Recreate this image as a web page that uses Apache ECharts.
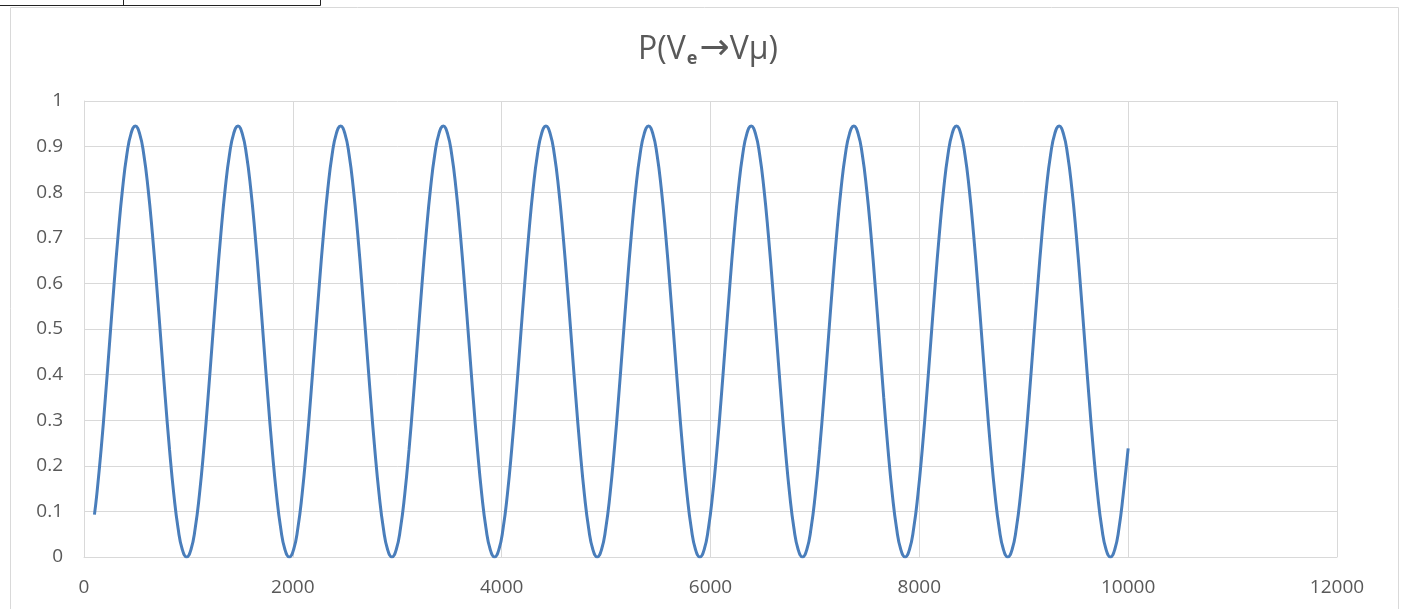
<!DOCTYPE html>
<html>
<head>
<meta charset="utf-8">
<script src="https://cdn.jsdelivr.net/npm/echarts@6/dist/echarts.min.js"></script>
<style>
html,body{margin:0;padding:0;background:#fff;}
#c{width:1403px;height:609px;}
</style>
</head>
<body>
<div id="c"></div>
<script>
// Distance (x) values
var distance = [
  100, 123, 164, 205, 246, 287, 328, 369, 410, 451, 492, 532, 573, 614, 655, 696, 737, 778, 819, 860, 901, 942,
  983, 1024, 1065, 1106, 1147, 1188, 1229, 1270, 1311, 1352, 1393, 1434, 1475, 1515, 1556, 1597, 1638, 1679, 1720, 1761, 1802, 1843, 1884, 1925,
  1966, 2007, 2048, 2089, 2130, 2171, 2212, 2253, 2294, 2335, 2376, 2417, 2458, 2498, 2539, 2580, 2621, 2662, 2703, 2744, 2785, 2826, 2867, 2908,
  2949, 2990, 3031, 3072, 3113, 3154, 3195, 3236, 3277, 3318, 3359, 3400, 3441, 3481, 3522, 3563, 3604, 3645, 3686, 3727, 3768, 3809, 3850, 3891,
  3932, 3973, 4014, 4055, 4096, 4137, 4178, 4219, 4260, 4301, 4342, 4383, 4424, 4464, 4505, 4546, 4587, 4628, 4669, 4710, 4751, 4792, 4833, 4874,
  4915, 4956, 4997, 5038, 5079, 5120, 5161, 5202, 5243, 5284, 5325, 5366, 5407, 5447, 5488, 5529, 5570, 5611, 5652, 5693, 5734, 5775, 5816, 5857,
  5898, 5939, 5980, 6021, 6062, 6103, 6144, 6185, 6226, 6267, 6308, 6349, 6390, 6430, 6471, 6512, 6553, 6594, 6635, 6676, 6717, 6758, 6799, 6840,
  6881, 6922, 6963, 7004, 7045, 7086, 7127, 7168, 7209, 7250, 7291, 7332, 7373, 7413, 7454, 7495, 7536, 7577, 7618, 7659, 7700, 7741, 7782, 7823,
  7864, 7905, 7946, 7987, 8028, 8069, 8110, 8151, 8192, 8233, 8274, 8315, 8356, 8396, 8437, 8478, 8519, 8560, 8601, 8642, 8683, 8724, 8765, 8806,
  8847, 8888, 8929, 8970, 9011, 9052, 9093, 9134, 9175, 9216, 9257, 9298, 9339, 9379, 9420, 9461, 9502, 9543, 9584, 9625, 9666, 9707, 9748, 9789,
  9830, 9871, 9912, 9953, 10000
];
// Probability P(Ve -> Vmu) values
var probability = [
  0.093, 0.138, 0.236, 0.350, 0.473, 0.595, 0.709, 0.807, 0.882, 0.929, 0.945, 0.929, 0.882, 0.807, 0.709, 0.595, 0.473, 0.350, 0.236, 0.138, 0.063, 0.016,
  0, 0.016, 0.063, 0.138, 0.236, 0.350, 0.473, 0.595, 0.709, 0.807, 0.882, 0.929, 0.945, 0.929, 0.882, 0.807, 0.709, 0.595, 0.473, 0.350, 0.236, 0.138, 0.063, 0.016,
  0, 0.016, 0.063, 0.138, 0.236, 0.350, 0.473, 0.595, 0.709, 0.807, 0.882, 0.929, 0.945, 0.929, 0.882, 0.807, 0.709, 0.595, 0.473, 0.350, 0.236, 0.138, 0.063, 0.016,
  0, 0.016, 0.063, 0.138, 0.236, 0.350, 0.473, 0.595, 0.709, 0.807, 0.882, 0.929, 0.945, 0.929, 0.882, 0.807, 0.709, 0.595, 0.473, 0.350, 0.236, 0.138, 0.063, 0.016,
  0, 0.016, 0.063, 0.138, 0.236, 0.350, 0.473, 0.595, 0.709, 0.807, 0.882, 0.929, 0.945, 0.929, 0.882, 0.807, 0.709, 0.595, 0.473, 0.350, 0.236, 0.138, 0.063, 0.016,
  0, 0.016, 0.063, 0.138, 0.236, 0.350, 0.473, 0.595, 0.709, 0.807, 0.882, 0.929, 0.945, 0.929, 0.882, 0.807, 0.709, 0.595, 0.473, 0.350, 0.236, 0.138, 0.063, 0.016,
  0, 0.016, 0.063, 0.138, 0.236, 0.350, 0.473, 0.595, 0.709, 0.807, 0.882, 0.929, 0.945, 0.929, 0.882, 0.807, 0.709, 0.595, 0.473, 0.350, 0.236, 0.138, 0.063, 0.016,
  0, 0.016, 0.063, 0.138, 0.236, 0.350, 0.473, 0.595, 0.709, 0.807, 0.882, 0.929, 0.945, 0.929, 0.882, 0.807, 0.709, 0.595, 0.473, 0.350, 0.236, 0.138, 0.063, 0.016,
  0, 0.016, 0.063, 0.138, 0.236, 0.350, 0.473, 0.595, 0.709, 0.807, 0.882, 0.929, 0.945, 0.929, 0.882, 0.807, 0.709, 0.595, 0.473, 0.350, 0.236, 0.138, 0.063, 0.016,
  0, 0.016, 0.063, 0.138, 0.236, 0.350, 0.473, 0.595, 0.709, 0.807, 0.882, 0.929, 0.945, 0.929, 0.882, 0.807, 0.709, 0.595, 0.473, 0.350, 0.236, 0.138, 0.063, 0.016,
  0, 0.016, 0.063, 0.138, 0.238
];
var xTicks = [0, 2000, 4000, 6000, 8000, 10000, 12000];
var yTicks = [0, 0.1, 0.2, 0.3, 0.4, 0.5, 0.6, 0.7, 0.8, 0.9, 1];

var points = distance.map(function (d, i) { return [d, probability[i]]; });

var chart = echarts.init(document.getElementById('c'));
var font = '"Open Sans", "Liberation Sans", sans-serif';
chart.setOption({
  animation: false,
  backgroundColor: '#fff',
  title: {
    text: '{a|P(V}{s|e}{r|→}{a|Vμ)}',
    left: 703,
    textAlign: 'center',
    top: 27,
    textStyle: {
      rich: {
        a: { fontFamily: font, fontSize: 32, fontWeight: 'normal', color: '#595959' },
        s: { fontFamily: font, fontSize: 18, fontWeight: 'bold', color: '#595959', verticalAlign: 'bottom', padding: [13, 2, 0, 1] },
        r: { fontFamily: '"DejaVu Sans", sans-serif', fontSize: 36, fontWeight: 'normal', color: '#595959' }
      }
    }
  },
  graphic: [
    { type: 'rect', shape: { x: 10.5, y: 7.5, width: 1388, height: 620 }, style: { fill: 'none', stroke: '#d9d9d9', lineWidth: 1 }, silent: true },
    { type: 'polyline', shape: { points: [[0, 5.5], [320.5, 5.5], [320.5, 0]] }, style: { fill: 'none', stroke: '#222', lineWidth: 1 }, silent: true },
    { type: 'line', shape: { x1: 123.5, y1: 0, x2: 123.5, y2: 5.5 }, style: { stroke: '#222', lineWidth: 1 }, silent: true }
  ],
  grid: { left: 84, right: 66, top: 101, bottom: 52, containLabel: false },
  xAxis: {
    type: 'value',
    min: xTicks[0],
    max: xTicks[xTicks.length - 1],
    interval: 2000,
    axisLine: { show: true, lineStyle: { color: '#d9d9d9', width: 1 } },
    axisTick: { show: false },
    splitLine: { show: true, lineStyle: { color: '#d9d9d9', width: 1 } },
    axisLabel: {
      color: '#595959', fontFamily: font, fontSize: 19, margin: 21,
      formatter: function (v) { return String(v); }
    }
  },
  yAxis: {
    type: 'value',
    min: yTicks[0],
    max: yTicks[yTicks.length - 1],
    interval: 0.1,
    axisLine: { show: true, lineStyle: { color: '#d9d9d9', width: 1 } },
    axisTick: { show: false },
    splitLine: { show: true, lineStyle: { color: '#d9d9d9', width: 1 } },
    axisLabel: { color: '#595959', fontFamily: font, fontSize: 19, margin: 21 }
  },
  series: [{
    type: 'line',
    data: points,
    smooth: true,
    showSymbol: false,
    lineStyle: { color: '#4a7ebb', width: 3 },
    itemStyle: { color: '#4a7ebb' }
  }]
});
</script>
</body>
</html>
